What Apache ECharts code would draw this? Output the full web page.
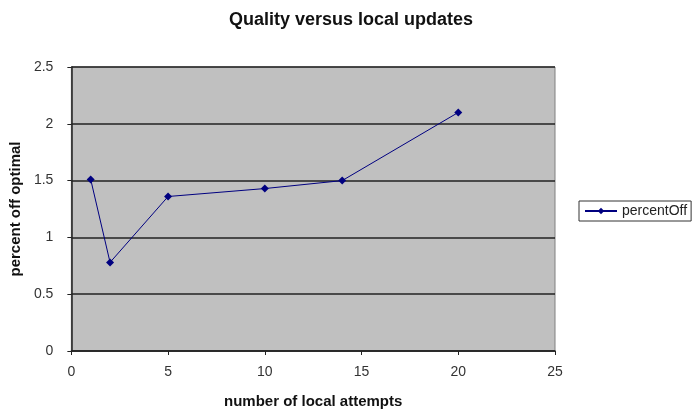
<!DOCTYPE html>
<html><head><meta charset="utf-8">
<script src="https://cdn.jsdelivr.net/npm/echarts@6/dist/echarts.min.js"></script>
<style>html,body{margin:0;padding:0;background:#fff}#c{width:692px;height:414px}</style>
</head><body><div id="c"></div>
<script>
const xValues = [1, 2, 5, 10, 14, 20];
const percentOff = [1.51, 0.78, 1.36, 1.43, 1.50, 2.10];
const seriesName = 'percentOff';
const titleText = 'Quality versus local updates';
const xName = 'number of local attempts';
const yName = 'percent off optimal';

const chart = echarts.init(document.getElementById('c'));
const font = 'Liberation Sans, Arial, sans-serif';
chart.setOption({
  animation: false,
  backgroundColor: '#fff',
  title: { text: titleText, left: 346, top: 6, textAlign: 'center',
    textStyle: { fontFamily: font, fontSize: 18, fontWeight: 'bold', color: '#111' } },
  legend: { data: [seriesName], left: 579, top: 201, orient: 'vertical',
    borderColor: '#333', borderWidth: 1, padding: [3, 4, 3, 5], itemWidth: 32, itemHeight: 8, itemGap: 4,
    textStyle: { fontFamily: font, fontSize: 14, color: '#222' } },
  grid: { left: 70, right: 137, top: 67, bottom: 61, show: true, backgroundColor: '#c0c0c0', borderColor: '#808080', borderWidth: 1 },
  xAxis: { type: 'value', min: 0, max: 25, interval: 5,
    name: xName, nameLocation: 'middle', nameGap: 43,
    nameTextStyle: { fontFamily: font, fontSize: 15, fontWeight: 'bold', color: '#111' },
    axisLine: { show: true, onZero: false, lineStyle: { color: '#222', width: 1.5 } },
    axisTick: { show: true, length: 4, lineStyle: { color: '#222' } },
    axisLabel: { fontFamily: font, fontSize: 14, color: '#333', margin: 14 },
    splitLine: { show: false } },
  yAxis: { type: 'value', min: 0, max: 2.5, interval: 0.5,
    name: yName, nameLocation: 'middle', nameGap: 42,
    nameTextStyle: { fontFamily: font, fontSize: 15, fontWeight: 'bold', color: '#111' },
    axisLine: { show: true, lineStyle: { color: '#222', width: 1.5 } },
    axisTick: { show: true, length: 4, lineStyle: { color: '#222' } },
    axisLabel: { fontFamily: font, fontSize: 14, color: '#333', margin: 18 },
    splitLine: { show: true, lineStyle: { color: '#222', width: 1.5 } } },
  series: [{
    name: seriesName, type: 'line',
    data: xValues.map((x, i) => [x, percentOff[i]]),
    symbol: 'diamond', symbolSize: 8,
    lineStyle: { color: '#000080', width: 1 },
    itemStyle: { color: '#000080' }
  }]
});
</script></body></html>
